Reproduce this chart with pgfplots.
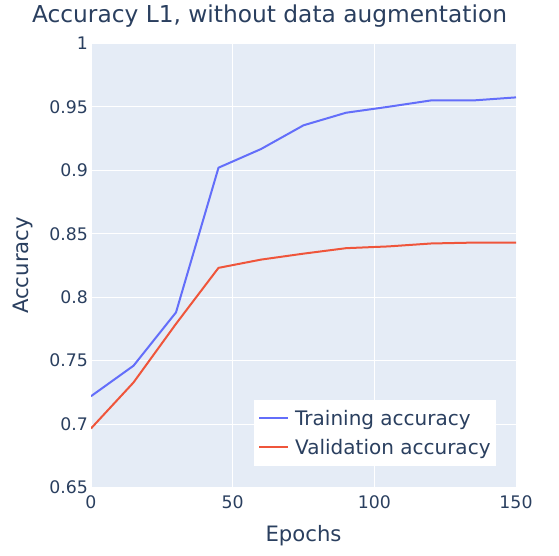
\documentclass[border=0pt]{standalone}
\usepackage{fontspec}
\setmainfont{DejaVu Sans}
\usepackage{pgfplots}
\pgfplotsset{compat=1.18}
\definecolor{plotbg}{HTML}{E5ECF6}
\definecolor{txt}{HTML}{2A3F5F}
\definecolor{trainc}{HTML}{636EFA}
\definecolor{valc}{HTML}{EF553B}

\begin{document}
\begin{tikzpicture}
\useasboundingbox (0pt,0pt) rectangle (559pt,555pt);
\begin{axis}[
  at={(91pt,67.4pt)}, anchor=south west,
  scale only axis, width=425pt, height=444.3pt,
  xmin=0, xmax=150, ymin=0.65, ymax=1,
  xtick={0,50,100,150},
  ytick={0.65,0.7,0.75,0.8,0.85,0.9,0.95,1},
  yticklabels={0.65,0.7,0.75,0.8,0.85,0.9,0.95,1},
  /pgf/number format/assume math mode=true,
  axis background/.style={fill=plotbg},
  axis line style={draw=none},
  grid=major,
  major grid style={white, line width=1pt},
  tick style={draw=none},
  ticklabel style={font=\fontsize{17.3}{17.3}\selectfont, text=txt},
  yticklabel style={inner sep=0pt, anchor=east, xshift=-3pt},
  xticklabel style={inner sep=0pt, anchor=north, yshift=-7.4pt},
  title={Accuracy L1, without data augmentation},
  title style={at={(axis description cs:0.42,1.034)}, anchor=base,
    font=\fontsize{23.3}{23.3}\selectfont, text=txt, inner sep=0pt},
  xlabel={Epochs},
  xlabel style={at={(axis description cs:0.5,-0.1202)}, anchor=base,
    font=\fontsize{21.2}{21.2}\selectfont, text=txt, inner sep=0pt},
  ylabel={Accuracy},
  ylabel style={at={(axis description cs:-0.1459,0.5)}, anchor=base,
    font=\fontsize{21.2}{21.2}\selectfont, text=txt, inner sep=0pt},
  legend style={at={(axis description cs:0.3835,0.0486)}, anchor=south west,
    draw=none, fill=white, font=\fontsize{20}{20}\selectfont, text=txt,
    inner xsep=4pt, inner ysep=9pt, row sep=10.5pt,
    nodes={inner sep=1pt}},
  legend cell align=left,
  legend image code/.code={\draw[#1] (0pt,0pt) -- (29pt,0pt); \path (34pt,0pt);},
  every axis plot/.append style={line width=2pt, line join=round},
]
\addplot[trainc] coordinates {
  (0,0.722) (15,0.746) (30,0.788) (45,0.902) (60,0.9167) (75,0.9354)
  (90,0.9453) (105,0.950) (120,0.955) (135,0.955) (150,0.9574)};
\addlegendentry{Training accuracy}
\addplot[valc] coordinates {
  (0,0.6966) (15,0.7328) (30,0.779) (45,0.8231) (60,0.8296) (75,0.8343)
  (90,0.8386) (105,0.840) (120,0.8423) (135,0.843) (150,0.843)};
\addlegendentry{Validation accuracy}
\end{axis}
\end{tikzpicture}
\end{document}
